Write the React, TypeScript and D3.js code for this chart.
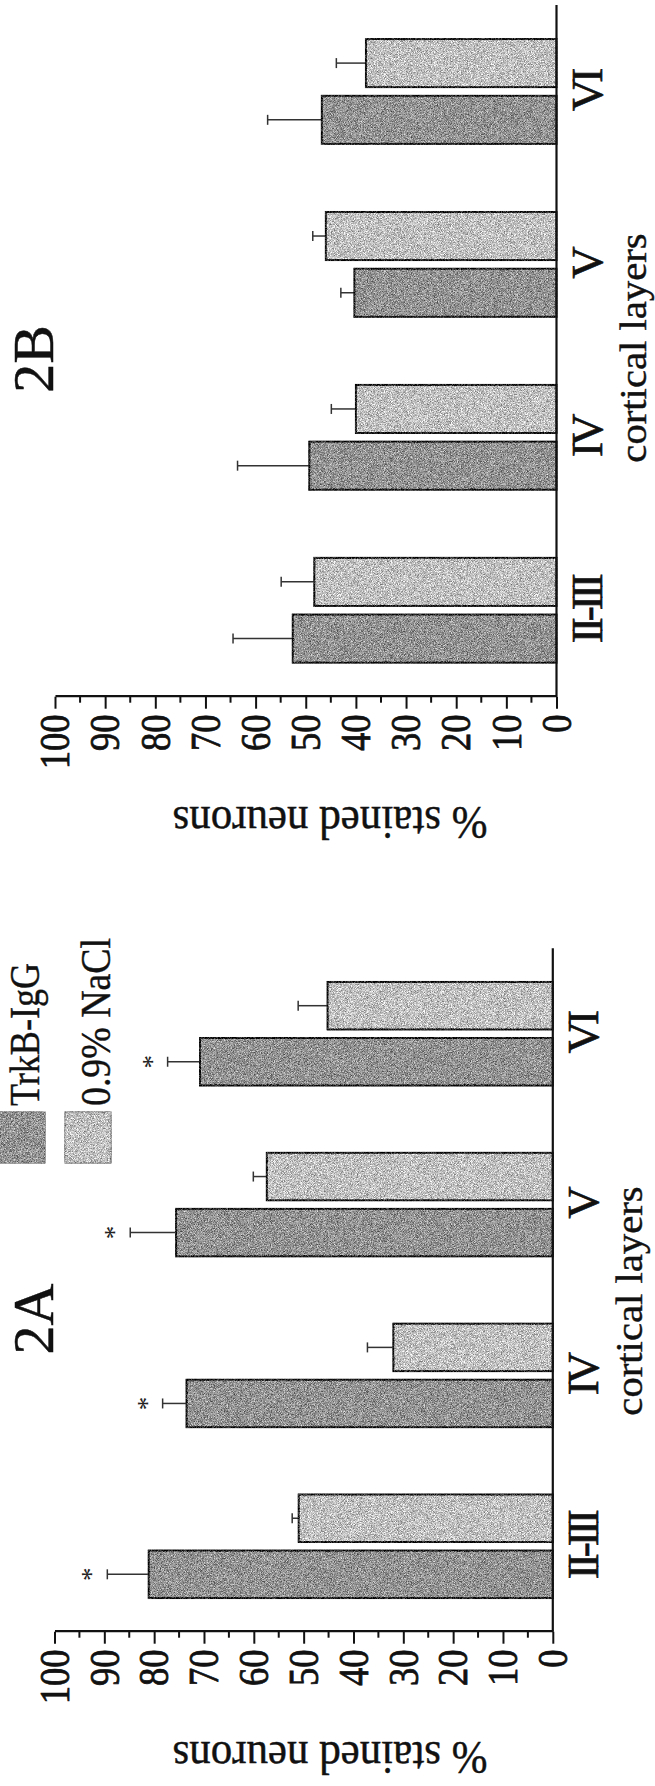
import React, { useEffect, useRef } from "react";
import * as d3 from "d3";

// cortical layers (categories) and the two treatment series
const layers = ["II-III", "IV", "V", "VI"];
const series = ["TrkB-IgG", "0.9% NaCl"];

// panel 2A, % stained neurons (mean, + error)
const trkbA = [81.1, 73.5, 75.6, 70.8];
const trkbErrA = [8.3, 4.8, 9.2, 6.5];
const naclA = [51.0, 32.0, 57.4, 45.2];
const naclErrA = [1.3, 5.2, 2.7, 5.9];
const starsA = [true, true, true, true];

// panel 2B
const trkbB = [52.6, 49.3, 40.3, 46.8];
const trkbErrB = [11.9, 14.3, 2.7, 10.8];
const naclB = [48.3, 40.0, 46.0, 38.0];
const naclErrB = [6.6, 4.9, 2.6, 5.9];
const starsB = [false, false, false, false];

const yTicks = [0, 10, 20, 30, 40, 50, 60, 70, 80, 90, 100];
const yMinor = [5, 15, 25, 35, 45, 55, 65, 75, 85, 95];

const W = 655;
const H = 1786;
const FONT = "'Liberation Serif', 'Times New Roman', 'DejaVu Serif', serif";
const colors = { "TrkB-IgG": "#939393", "0.9% NaCl": "#c0c0c0" };

// the page is the figure turned a quarter turn counter-clockwise,
// so everything is drawn upright inside a rotated group
const panels = [
  {
    name: "2A",
    trkb: trkbA, trkbErr: trkbErrA, nacl: naclA, naclErr: naclErrA, stars: starsA,
    cat: [154.3, 837.7], val: [552.8, 54.5],
    title: { x: 44, y: 330 },
    label: { x: 467, y: 53 },
    xTitle: 485,
    legend: true
  },
  {
    name: "2B",
    trkb: trkbB, trkbErr: trkbErrB, nacl: naclB, naclErr: naclErrB, stars: starsB,
    cat: [1089.3, 1781], val: [556.5, 55],
    title: { x: 979, y: 330 },
    label: { x: 1427, y: 53 },
    xTitle: 1438,
    legend: false
  }
];

function drawPanel(root, p) {
  const g = root.append("g");

  const x0 = d3.scaleBand().domain(layers).range(p.cat);
  const x1 = d3.scaleBand().domain(series)
    .range([0, x0.bandwidth()])
    .paddingInner(0.152)
    .paddingOuter(0.6);
  const y = d3.scaleLinear().domain([0, 100]).range(p.val);

  const rows = [];
  layers.forEach((l, i) => {
    rows.push({ layer: l, s: series[0], v: p.trkb[i], e: p.trkbErr[i], star: p.stars[i] });
    rows.push({ layer: l, s: series[1], v: p.nacl[i], e: p.naclErr[i], star: false });
  });
  const cx = d => x0(d.layer) + x1(d.s) + x1.bandwidth() / 2;

  // error bars (upper only)
  const eb = g.selectAll("g.err").data(rows).enter().append("g").attr("class", "err");
  eb.append("line")
    .attr("x1", cx).attr("x2", cx)
    .attr("y1", d => y(d.v))
    .attr("y2", d => y(d.v + d.e))
    .attr("stroke", "#333").attr("stroke-width", 1.5);
  eb.append("line")
    .attr("x1", d => cx(d) - 5)
    .attr("x2", d => cx(d) + 5)
    .attr("y1", d => y(d.v + d.e))
    .attr("y2", d => y(d.v + d.e))
    .attr("stroke", "#333").attr("stroke-width", 1.5);

  g.selectAll("rect.bar").data(rows).enter().append("rect")
    .attr("class", "bar")
    .attr("x", d => x0(d.layer) + x1(d.s))
    .attr("width", x1.bandwidth())
    .attr("y", d => y(d.v))
    .attr("height", d => y(0) - y(d.v))
    .attr("fill", d => colors[d.s])
    .attr("stroke", "#1a1a1a")
    .attr("stroke-width", 2)
    .attr("filter", "url(#grain)");

  g.selectAll("text.star").data(rows.filter(d => d.star)).enter().append("text")
    .attr("class", "star")
    .attr("x", cx)
    .attr("y", d => y(d.v + d.e) - 7)
    .attr("text-anchor", "middle")
    .attr("font-family", FONT)
    .attr("font-size", 27)
    .attr("fill", "#222")
    .text("*");

  // value axis
  const axis = d3.axisLeft(y).tickValues(yTicks).tickSize(12).tickSizeOuter(0).tickPadding(9);
  const ax = g.append("g").attr("transform", `translate(${p.cat[0]},0)`).call(axis);
  ax.select(".domain").attr("stroke", "#111").attr("stroke-width", 2.2);
  ax.selectAll(".tick line").attr("stroke", "#111").attr("stroke-width", 2);
  ax.selectAll(".tick text")
    .attr("font-family", FONT)
    .attr("font-size", 43)
    .attr("fill", "#111")
    .attr("stroke", "#111")
    .attr("stroke-width", 0.8)
    .attr("transform", "scale(0.85,1)");
  ax.selectAll("line.minor").data(yMinor).enter().append("line")
    .attr("class", "minor")
    .attr("x1", 0).attr("x2", -6)
    .attr("y1", d => y(d)).attr("y2", d => y(d))
    .attr("stroke", "#111").attr("stroke-width", 2);

  // category baseline
  g.append("line")
    .attr("x1", p.cat[0]).attr("x2", p.cat[1])
    .attr("y1", y(0)).attr("y2", y(0))
    .attr("stroke", "#111").attr("stroke-width", 2.2);

  g.selectAll("text.cat").data(layers).enter().append("text")
    .attr("class", "cat")
    .attr("transform", d => `translate(${x0(d) + x0.bandwidth() / 2},${y(0) + 45})`)
    .attr("text-anchor", "middle")
    .attr("font-family", FONT)
    .attr("font-size", 45)
    .attr("letter-spacing", -4)
    .attr("fill", "#111")
    .attr("stroke", "#111")
    .attr("stroke-width", 0.6)
    .text(d => d);

  g.append("text")
    .attr("transform", `translate(${p.xTitle},${y(0) + 89}) scale(1.1,1)`)
    .attr("text-anchor", "middle")
    .attr("font-family", FONT)
    .attr("font-size", 37)
    .attr("fill", "#111")
    .attr("stroke", "#111")
    .attr("stroke-width", 0.4)
    .text("cortical layers");

  g.append("text")
    .attr("transform", `translate(${p.title.x},${p.title.y}) scale(1.1,1) rotate(-90)`)
    .attr("text-anchor", "middle")
    .attr("font-family", FONT)
    .attr("font-size", 43)
    .attr("fill", "#111")
    .attr("stroke", "#111")
    .attr("stroke-width", 0.4)
    .text("% stained neurons");

  g.append("text")
    .attr("transform", `translate(${p.label.x},${p.label.y})`)
    .attr("text-anchor", "middle")
    .attr("font-family", FONT)
    .attr("font-size", 58)
    .attr("fill", "#111")
    .attr("stroke", "#111")
    .attr("stroke-width", 0.5)
    .text(p.name);

  if (p.legend) {
    const lg = g.append("g").attr("transform", "translate(623,0)");
    const items = [
      { s: series[0], y0: 0, h: 45, base: 39, len: 143 },
      { s: series[1], y0: 65, h: 46, base: 110, len: 168 }
    ];
    lg.selectAll("rect").data(items).enter().append("rect")
      .attr("x", 0).attr("width", 51)
      .attr("y", d => d.y0).attr("height", d => d.h)
      .attr("fill", d => colors[d.s])
      .attr("stroke", "#888").attr("stroke-width", 1)
      .attr("filter", "url(#grain)");
    lg.selectAll("text").data(items).enter().append("text")
      .attr("x", 57)
      .attr("y", d => d.base)
      .attr("font-family", FONT)
      .attr("font-size", 42)
      .attr("fill", "#111")
      .attr("stroke", "#111")
      .attr("stroke-width", 0.4)
      .attr("textLength", d => d.len)
      .attr("lengthAdjust", "spacingAndGlyphs")
      .text(d => d.s);
  }
}

function Figure() {
  const ref = useRef(null);
  useEffect(() => {
    const svg = d3.select(ref.current);
    svg.selectAll("*").remove();

    // scan-like stipple on the bars
    const f = svg.append("defs").append("filter")
      .attr("id", "grain")
      .attr("x", "-5%").attr("y", "-5%").attr("width", "110%").attr("height", "110%")
      .attr("color-interpolation-filters", "sRGB");
    f.append("feTurbulence")
      .attr("type", "fractalNoise").attr("baseFrequency", 1.3)
      .attr("numOctaves", 1).attr("seed", 4).attr("result", "noise");
    f.append("feColorMatrix")
      .attr("in", "noise").attr("type", "matrix")
      .attr("values", "1 0 0 0 0  1 0 0 0 0  1 0 0 0 0  0 0 0 0 1")
      .attr("result", "gray");
    f.append("feComposite")
      .attr("in", "SourceGraphic").attr("in2", "gray")
      .attr("operator", "arithmetic")
      .attr("k1", 0).attr("k2", 1).attr("k3", 1.1).attr("k4", -0.55)
      .attr("result", "mix");
    f.append("feComposite")
      .attr("in", "mix").attr("in2", "SourceGraphic").attr("operator", "in");

    const root = svg.append("g").attr("transform", `translate(0,${H}) rotate(-90)`);
    panels.forEach(p => drawPanel(root, p));
  }, []);
  return (
    <svg ref={ref} width={W} height={H}
      style={{ position: "absolute", left: 0, top: 0, background: "#fff" }} />
  );
}

export default function App() {
  return <Figure />;
}
